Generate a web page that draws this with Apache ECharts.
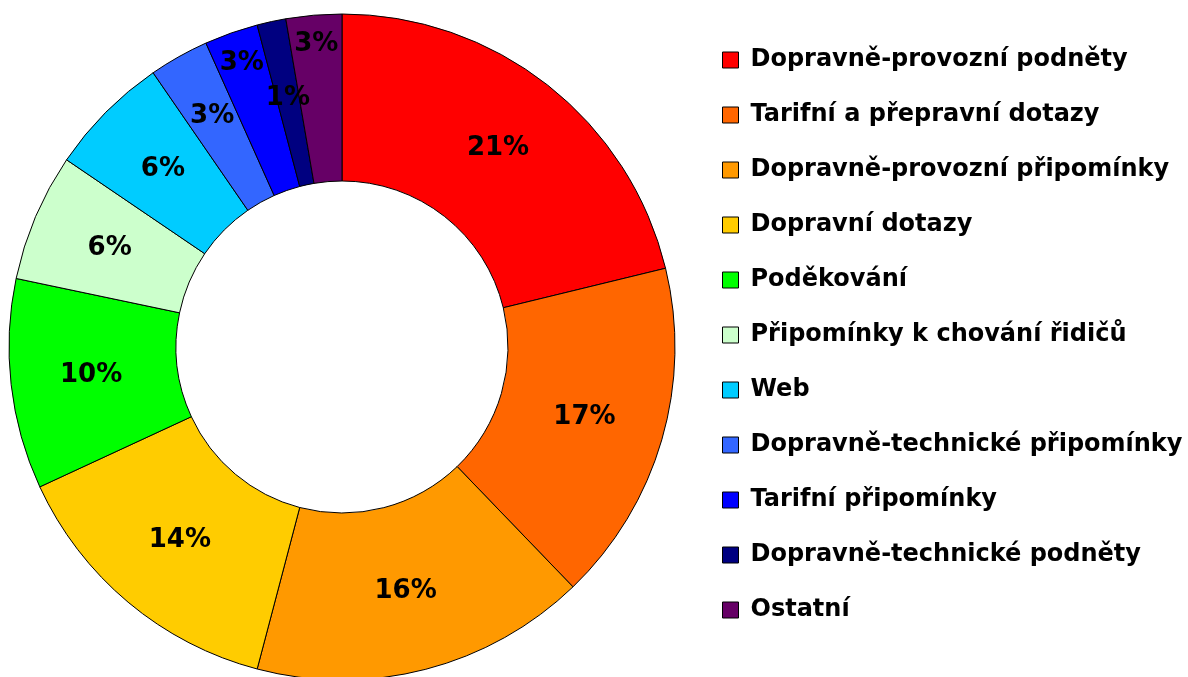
<!DOCTYPE html>
<html>
<head>
<meta charset="utf-8">
<script src="https://cdn.jsdelivr.net/npm/echarts@6/dist/echarts.min.js"></script>
<style>
  html, body { margin: 0; padding: 0; background: #fff; }
  #chart { width: 1188px; height: 677px; }
</style>
</head>
<body>
<div id="chart"></div>
<script>
// categories and shares (%)
const categories = [
  'Dopravně-provozní podněty',
  'Tarifní a přepravní dotazy',
  'Dopravně-provozní připomínky',
  'Dopravní dotazy',
  'Poděkování',
  'Připomínky k chování řidičů',
  'Web',
  'Dopravně-technické připomínky',
  'Tarifní připomínky',
  'Dopravně-technické podněty',
  'Ostatní'
]
const shares = [21.2, 16.6, 16.3, 14.0, 10.2, 6.2, 5.9, 2.9, 2.6, 1.4, 2.7]
const colors = ['#ff0000', '#ff6600', '#ff9900', '#ffcc00', '#00ff00', '#ccffcc',
  '#00ccff', '#3366ff', '#0000ff', '#000080', '#660066']

const chart = echarts.init(document.getElementById('chart'))
const font = 'DejaVu Sans, Verdana, sans-serif'
const cx = 342
const cy = 347

// the small slices have their labels pushed outwards, like the original
function labelRadius (i) {
  if (i === 7) return 265
  if (i === 8) return 301
  if (i === 9) return 255
  if (i === 10) return 304
  return null
}

chart.setOption({
  animation: false,
  color: colors,
  legend: {
    orient: 'vertical',
    left: 722,
    top: 48,
    padding: 0,
    icon: 'rect',
    itemWidth: 16,
    itemHeight: 16,
    itemGap: 31,
    selectedMode: false,
    itemStyle: { borderColor: '#000', borderWidth: 1 },
    textStyle: {
      fontFamily: font,
      fontWeight: 'bold',
      fontSize: 24,
      lineHeight: 24,
      color: '#000',
      padding: [0, 0, 0, 7]
    },
    data: categories
  },
  series: [
    {
      type: 'pie',
      center: [cx, cy],
      radius: [166, 333],
      startAngle: 90,
      clockwise: true,
      avoidLabelOverlap: false,
      itemStyle: { borderColor: '#000', borderWidth: 1 },
      label: {
        show: true,
        position: 'inside',
        fontFamily: font,
        fontWeight: 'bold',
        fontSize: 26,
        color: '#000',
        formatter: p => Math.round(p.value) + '%'
      },
      labelLine: { show: false },
      labelLayout: function (params) {
        const r = labelRadius(params.dataIndex)
        if (!r) return { hideOverlap: false }
        const rect = params.labelRect
        const dx = rect.x + rect.width / 2 - cx
        const dy = rect.y + rect.height / 2 - cy
        const d = Math.sqrt(dx * dx + dy * dy)
        return {
          x: cx + dx * r / d,
          y: cy + dy * r / d,
          align: 'center',
          verticalAlign: 'middle',
          hideOverlap: false
        }
      },
      emphasis: { disabled: true },
      data: categories.map((name, i) => ({ name: name, value: shares[i] }))
    }
  ]
})
</script>
</body>
</html>
